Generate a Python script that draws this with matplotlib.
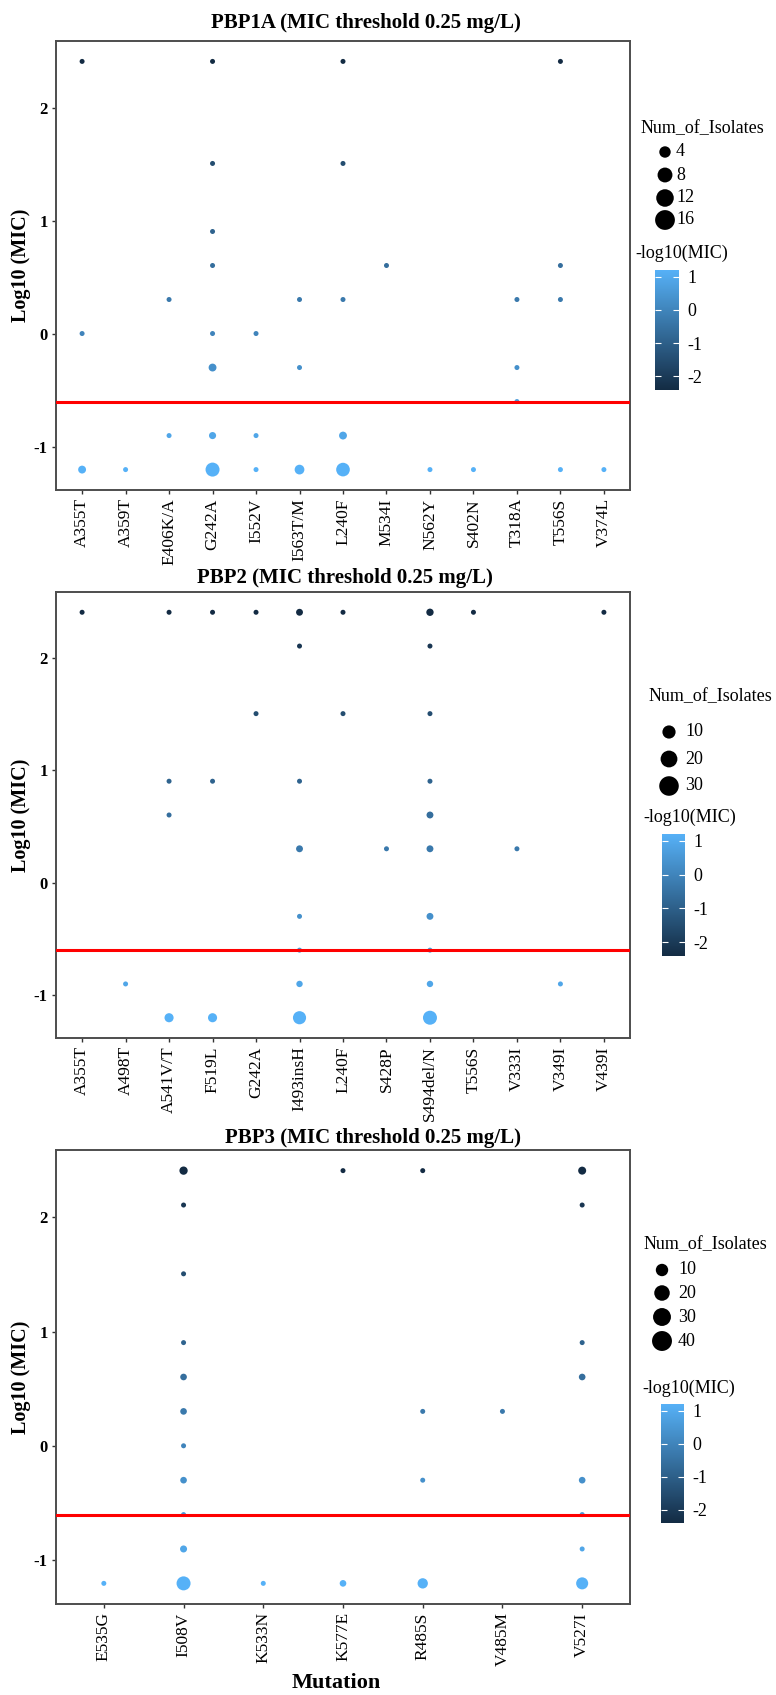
import numpy as np
import matplotlib
matplotlib.use("Agg")
import matplotlib.pyplot as plt
from matplotlib.colors import LinearSegmentedColormap, Normalize
import matplotlib.cm as cm

plt.rcParams['font.family'] = ['Liberation Serif', 'DejaVu Serif']
plt.rcParams['axes.unicode_minus'] = False

# ---------------- data ----------------
pbp1a_cats = ["A355T", "A359T", "E406K/A", "G242A", "I552V", "I563T/M", "L240F",
              "M534I", "N562Y", "S402N", "T318A", "T556S", "V374L"]
pbp1a_mut = ["A355T", "A355T", "A355T",
             "A359T",
             "E406K/A", "E406K/A",
             "G242A", "G242A", "G242A", "G242A", "G242A", "G242A", "G242A", "G242A",
             "I552V", "I552V", "I552V",
             "I563T/M", "I563T/M", "I563T/M",
             "L240F", "L240F", "L240F", "L240F", "L240F",
             "M534I", "N562Y", "S402N",
             "T318A", "T318A", "T318A",
             "T556S", "T556S", "T556S", "T556S",
             "V374L"]
pbp1a_mic = [256, 1, 0.0625,
             0.0625,
             2, 0.125,
             256, 32, 8, 4, 1, 0.5, 0.125, 0.0625,
             1, 0.125, 0.0625,
             2, 0.5, 0.0625,
             256, 32, 2, 0.125, 0.0625,
             4, 0.0625, 0.0625,
             2, 0.5, 0.25,
             256, 4, 2, 0.0625,
             0.0625]
pbp1a_n = [1, 1, 4,
           1,
           1, 1,
           1, 1, 1, 1, 1, 4, 3, 17,
           1, 1, 1,
           1, 1, 7,
           1, 1, 1, 4, 16,
           1, 1, 1,
           1, 1, 1,
           1, 1, 1, 1,
           1]

pbp2_cats = ["A355T", "A498T", "A541V/T", "F519L", "G242A", "I493insH", "L240F",
             "S428P", "S494del/N", "T556S", "V333I", "V349I", "V439I"]
pbp2_mut = ["A355T",
            "A498T",
            "A541V/T", "A541V/T", "A541V/T", "A541V/T",
            "F519L", "F519L", "F519L",
            "G242A", "G242A",
            "I493insH", "I493insH", "I493insH", "I493insH", "I493insH", "I493insH", "I493insH", "I493insH",
            "L240F", "L240F",
            "S428P",
            "S494del/N", "S494del/N", "S494del/N", "S494del/N", "S494del/N",
            "S494del/N", "S494del/N", "S494del/N", "S494del/N", "S494del/N",
            "T556S", "V333I", "V349I", "V439I"]
pbp2_mic = [256,
            0.125,
            256, 8, 4, 0.0625,
            256, 8, 0.0625,
            256, 32,
            256, 128, 8, 2, 0.5, 0.25, 0.125, 0.0625,
            256, 32,
            2,
            256, 128, 32, 8, 4,
            2, 0.5, 0.25, 0.125, 0.0625,
            256, 2, 0.125, 256]
pbp2_n = [1,
          1,
          1, 1, 1, 10,
          1, 1, 10,
          1, 1,
          4, 1, 1, 4, 1, 1, 3, 28,
          1, 1,
          1,
          5, 1, 1, 1, 4,
          4, 4, 1, 3, 33,
          1, 1, 1, 1]

pbp3_cats = ["E535G", "I508V", "K533N", "K577E", "R485S", "V485M", "V527I"]
pbp3_mut = ["E535G",
            "I508V", "I508V", "I508V", "I508V", "I508V", "I508V",
            "I508V", "I508V", "I508V", "I508V", "I508V",
            "K533N",
            "K577E", "K577E",
            "R485S", "R485S", "R485S", "R485S",
            "V485M",
            "V527I", "V527I", "V527I", "V527I", "V527I", "V527I", "V527I", "V527I"]
pbp3_mic = [0.0625,
            256, 128, 32, 8, 4, 2,
            1, 0.5, 0.25, 0.125, 0.0625,
            0.0625,
            256, 0.0625,
            256, 2, 0.5, 0.0625,
            2,
            256, 128, 8, 4, 0.5, 0.25, 0.125, 0.0625]
pbp3_n = [1,
          9, 1, 1, 1, 4, 4,
          1, 4, 1, 5, 42,
          1,
          1, 4,
          1, 1, 1, 18,
          1,
          8, 1, 1, 4, 4, 1, 1, 28]

titles = ["PBP1A (MIC threshold 0.25 mg/L)",
          "PBP2 (MIC threshold 0.25 mg/L)",
          "PBP3 (MIC threshold 0.25 mg/L)"]
size_breaks = [[4, 8, 12, 16], [10, 20, 30], [10, 20, 30, 40]]
threshold = 0.25
cbar_ticks = [1, 0, -1, -2]

# ---------------- layout (pixels) ----------------
W, H = 776, 1695
fig = plt.figure(figsize=(W / 100, H / 100), dpi=100)

def fbox(x0, y0, x1, y1):
    return [x0 / W, 1 - y1 / H, (x1 - x0) / W, (y1 - y0) / H]

layout = [
    dict(ax=(56, 41, 630, 490), title=(366, 23),
         nt=(641, 129), dot_x=665, dot_y=[152, 175, 198, 220], lab_x=676,
         ct=(635, 253), cb=(655, 270, 679, 390)),
    dict(ax=(56, 592, 630, 1038), title=(345, 578),
         nt=(649, 697), dot_x=669, dot_y=[732, 759, 786], lab_x=685,
         ct=(643, 817), cb=(662, 834, 685, 956)),
    dict(ax=(56, 1150, 630, 1604), title=(373, 1138),
         nt=(644, 1245), dot_x=662, dot_y=[1270, 1293, 1317, 1341], lab_x=678,
         ct=(642, 1388), cb=(661, 1404, 684, 1523)),
]

cmap = LinearSegmentedColormap.from_list("gg", ["#132B43", "#56B1F7"])
all_mic = pbp1a_mic + pbp2_mic + pbp3_mic
cvals_all = -np.log10(all_mic)
norm = Normalize(vmin=cvals_all.min(), vmax=cvals_all.max())

ov = fig.add_axes([0, 0, 1, 1], zorder=5)
ov.set_xlim(0, W)
ov.set_ylim(H, 0)
ov.axis('off')
ov.patch.set_alpha(0)

def diam(n, nmax):
    n = np.asarray(n, dtype=float)
    return 5.0 + 9.0 * (np.sqrt(n) - 1) / (np.sqrt(nmax) - 1)

panels = [(pbp1a_cats, pbp1a_mut, pbp1a_mic, pbp1a_n),
          (pbp2_cats, pbp2_mut, pbp2_mic, pbp2_n),
          (pbp3_cats, pbp3_mut, pbp3_mic, pbp3_n)]

ylo, yhi = np.log10(min(all_mic)), np.log10(max(all_mic))
pad = 0.05 * (yhi - ylo)

for i, (cats, mut, mic, nn) in enumerate(panels):
    L = layout[i]
    ax = fig.add_axes(fbox(*L['ax']))
    xs = np.array([cats.index(m) for m in mut])
    ys = np.log10(mic)
    cs = -np.log10(mic)
    nmax = max(nn)
    d = diam(nn, nmax)
    ax.scatter(xs, ys, s=(d * 0.72) ** 2, c=cs, cmap=cmap, norm=norm,
               linewidths=0, zorder=2)
    ax.axhline(np.log10(threshold), color='#ff0000', lw=2.2, zorder=3)
    ax.set_xlim(-0.6, len(cats) - 1 + 0.6)
    ax.set_ylim(ylo - pad, yhi + pad)
    ax.set_xticks(range(len(cats)))
    ax.set_xticklabels(cats, rotation=90, fontsize=12.5)
    ax.set_yticks([-1, 0, 1, 2])
    ax.set_yticklabels(['-1', '0', '1', '2'], fontsize=12, fontweight='bold')
    ax.tick_params(axis='both', length=3, width=1, color='#333333', pad=3)
    for sp in ax.spines.values():
        sp.set_color('#4d4d4d')
        sp.set_linewidth(1.4)

    fig.text(L['title'][0] / W, 1 - L['title'][1] / H, titles[i],
             ha='center', va='center', fontsize=15, fontweight='bold')
    ycen = (L['ax'][1] + L['ax'][3]) / 2
    fig.text(21 / W, 1 - ycen / H, 'Log10 (MIC)', rotation=90,
             ha='center', va='center', fontsize=14.5, fontweight='bold')

    # size legend
    ov.text(L['nt'][0], L['nt'][1], 'Num_of_Isolates', ha='left', va='center',
            fontsize=13)
    br = size_breaks[i]
    ld = diam(br, nmax) / 0.69
    ov.scatter([L['dot_x']] * len(br), L['dot_y'], s=(ld * 0.72) ** 2,
               color='black', linewidths=0)
    for b, yy in zip(br, L['dot_y']):
        ov.text(L['lab_x'], yy, str(b), ha='left', va='center', fontsize=13)

    # colour legend
    ov.text(L['ct'][0], L['ct'][1], '-log10(MIC)', ha='left', va='center',
            fontsize=13)
    cax = fig.add_axes(fbox(*L['cb']))
    cb = fig.colorbar(cm.ScalarMappable(norm=norm, cmap=cmap), cax=cax)
    cb.outline.set_visible(False)
    cb.set_ticks(cbar_ticks)
    cb.set_ticklabels([str(t) for t in cbar_ticks])
    cax.tick_params(direction='in', color='white', length=4, width=0.8,
                    left=True, right=True, labelsize=13, pad=6)

fig.text(336 / W, 1 - 1683 / H, 'Mutation', ha='center', va='center',
         fontsize=16, fontweight='bold')

fig.savefig('out.png', dpi=100)
